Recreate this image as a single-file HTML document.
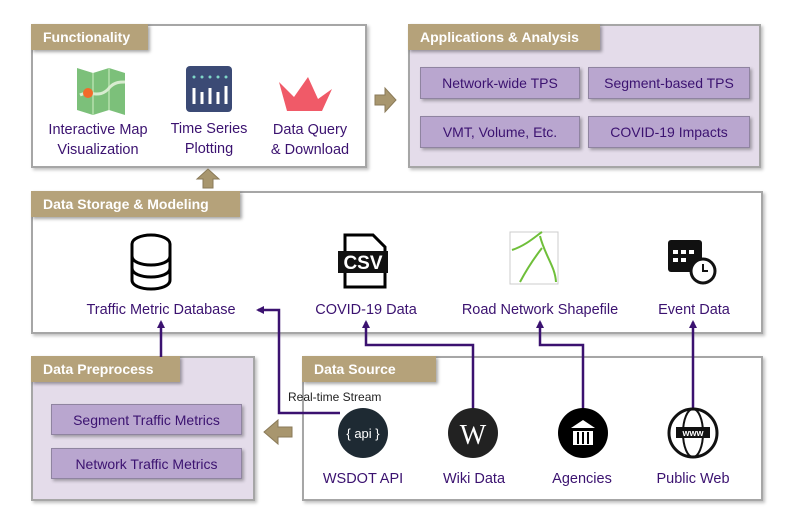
<!DOCTYPE html>
<html><head><meta charset="utf-8"><style>
body{margin:0;width:789px;height:519px;background:#fff;position:relative;font-family:"Liberation Sans",sans-serif;overflow:hidden}
.box{position:absolute;border:2px solid #a6a6a6;box-sizing:border-box;box-shadow:2px 2px 3px rgba(0,0,0,.25)}
.tab{position:absolute;background:#b5a27a;color:#fff;font-weight:bold;font-size:14px;line-height:26px;padding-left:12px;box-sizing:border-box;box-shadow:2px 2px 3px rgba(0,0,0,.35)}
.btn{position:absolute;background:#b9a6cf;border:1px solid #8f84a0;color:#3b1270;font-size:14px;text-align:center;line-height:30px;box-sizing:border-box;box-shadow:2px 2px 3px rgba(0,0,0,.3)}
.lbl{position:absolute;color:#3b1270;font-size:14.5px;text-align:center;white-space:nowrap;transform:translateX(-50%);line-height:20px}
</style></head><body>
<div class="box" style="left:31px;top:24px;width:336px;height:144px"></div>
<div class="tab" style="left:31px;top:24px;width:117px">Functionality</div>
<div class="box" style="left:408px;top:24px;width:353px;height:144px;background:#e4dcea"></div>
<div class="tab" style="left:408px;top:24px;width:192px">Applications &amp; Analysis</div>
<div class="btn" style="left:420px;top:67px;width:160px;height:32px">Network-wide TPS</div>
<div class="btn" style="left:588px;top:67px;width:162px;height:32px">Segment-based TPS</div>
<div class="btn" style="left:420px;top:116px;width:160px;height:32px">VMT, Volume, Etc.</div>
<div class="btn" style="left:588px;top:116px;width:162px;height:32px">COVID-19 Impacts</div>
<div class="box" style="left:31px;top:191px;width:732px;height:143px"></div>
<div class="tab" style="left:31px;top:191px;width:209px">Data Storage &amp; Modeling</div>
<div class="box" style="left:31px;top:356px;width:224px;height:145px;background:#e4dcea"></div>
<div class="tab" style="left:31px;top:356px;width:149px">Data Preprocess</div>
<div class="btn" style="left:51px;top:404px;width:191px;height:31px">Segment Traffic Metrics</div>
<div class="btn" style="left:51px;top:448px;width:191px;height:31px">Network Traffic Metrics</div>
<div class="box" style="left:302px;top:356px;width:461px;height:145px"></div>
<div class="tab" style="left:302px;top:356px;width:134px">Data Source</div>

<svg width="789" height="519" style="position:absolute;left:0;top:0">
<defs><marker id="a" markerWidth="8" markerHeight="8" refX="6" refY="4" orient="auto" markerUnits="userSpaceOnUse"><path d="M0,0L8,4L0,8z" fill="#3b1270"/></marker></defs>
<g stroke="#3b1270" stroke-width="2.5" fill="none" marker-end="url(#a)">
<path d="M161,357V322"/>
<path d="M340,413H279V310H258"/>
<path d="M473,420V345H366V322"/>
<path d="M583,420V345H540V322"/>
<path d="M693,420V322"/>
</g>
<g fill="#a8966e" stroke="#8a7a58">
<path d="M375,95h10v-7l11,12l-11,12v-7h-10z"/>
<path d="M203,188v-9h-6l11,-10l11,10h-6v9z"/>
<path d="M292,427h-14v-7l-14,12l14,12v-7h14z"/>
</g>
<!-- map -->
<path d="M77,68l16,5 16,-5 16,5v42l-16,-5 -16,5 -16,-5z" fill="#7cc07a"/>
<path d="M93,73v42M109,68v42" stroke="#a7d8a0" stroke-width="2"/>
<path d="M80,95c10,-5 20,5 30,-8 5,-5 10,-5 15,-5" stroke="#d8ecd0" stroke-width="3" fill="none"/>
<circle cx="88" cy="93" r="5" fill="#f26b2a"/>
<rect x="186" y="66" width="46" height="46" rx="4" fill="#3b4a75"/>
<g stroke="#fff" stroke-width="3"><path d="M194,88v16M202,92v12M210,88v16M218,92v12M226,86v18"/></g>
<g fill="#7fd6c8"><circle cx="194" cy="77" r="1.5"/><circle cx="202" cy="77" r="1.5"/><circle cx="210" cy="77" r="1.5"/><circle cx="218" cy="77" r="1.5"/><circle cx="226" cy="77" r="1.5"/></g>
<path d="M279,82l15,15 14,-20 10,22 14,-10 -10,22h-35z" fill="#f05a68"/>
<!-- storage icons -->
<g fill="#fff" stroke="#000" stroke-width="3">
<ellipse cx="151" cy="244" rx="19" ry="9"/><path d="M132,244v36c0,12 38,12 38,0v-36M132,256c0,12 38,12 38,0M132,268c0,12 38,12 38,0"/>
</g>
<path d="M345,235h28l12,12v40h-40z" fill="#fff" stroke="#000" stroke-width="3"/>
<rect x="338" y="251" width="50" height="22" fill="#111"/>
<text x="363" y="269" fill="#fff" font-size="19" font-weight="bold" text-anchor="middle" font-family="Liberation Sans">CSV</text>
<rect x="510" y="232" width="48" height="52" fill="#fff" stroke="#ccc"/>
<path d="M512,250c15,-5 25,-15 30,-18M540,236c5,20 15,30 16,46M520,282c8,-15 15,-25 22,-34" stroke="#6fbf3a" stroke-width="2" fill="none"/>
<rect x="668" y="240" width="34" height="32" rx="3" fill="#111"/>
<circle cx="703" cy="271" r="12" fill="#fff" stroke="#111" stroke-width="3"/><path d="M703,264v7h5" stroke="#111" stroke-width="2" fill="none"/>
<g fill="#fff"><rect x="673" y="250" width="5" height="4"/><rect x="681" y="250" width="5" height="4"/><rect x="689" y="250" width="5" height="4"/><rect x="673" y="258" width="5" height="4"/><rect x="681" y="258" width="5" height="4"/></g>
<!-- sources -->
<circle cx="363" cy="433" r="25" fill="#1e2a33"/>
<text x="363" y="438" fill="#fff" font-size="13" text-anchor="middle" font-family="Liberation Sans">{ api }</text>
<circle cx="473" cy="433" r="25" fill="#222"/>
<text x="473" y="444" fill="#fff" font-size="28" text-anchor="middle" font-family="Liberation Serif">W</text>
<circle cx="583" cy="433" r="25" fill="#000"/>
<path d="M571,428h24l-12,-8z M573,431h20v14h-20z" fill="#fff"/>
<g stroke="#000" stroke-width="2"><path d="M578,432v12M583,432v12M588,432v12"/></g>
<circle cx="693" cy="433" r="24" fill="#fff" stroke="#111" stroke-width="3"/>
<ellipse cx="693" cy="433" rx="10" ry="24" fill="none" stroke="#111" stroke-width="2"/>
<rect x="676" y="427" width="34" height="11" fill="#111"/>
<text x="693" y="436" fill="#fff" font-size="9" font-weight="bold" text-anchor="middle" font-family="Liberation Sans">www</text>
</svg>

<div class="lbl" style="left:98px;top:120px">Interactive Map<br>Visualization</div>
<div class="lbl" style="left:209px;top:119px">Time Series<br>Plotting</div>
<div class="lbl" style="left:310px;top:120px">Data Query<br>&amp; Download</div>
<div class="lbl" style="left:161px;top:300px">Traffic Metric Database</div>
<div class="lbl" style="left:366px;top:300px">COVID-19 Data</div>
<div class="lbl" style="left:540px;top:300px">Road Network Shapefile</div>
<div class="lbl" style="left:694px;top:300px">Event Data</div>
<div class="lbl" style="left:363px;top:469px">WSDOT API</div>
<div class="lbl" style="left:474px;top:469px">Wiki Data</div>
<div class="lbl" style="left:582px;top:469px">Agencies</div>
<div class="lbl" style="left:693px;top:469px">Public Web</div>
<div style="position:absolute;left:288px;top:390px;font-size:12px;color:#222">Real-time Stream</div>
</body></html>
